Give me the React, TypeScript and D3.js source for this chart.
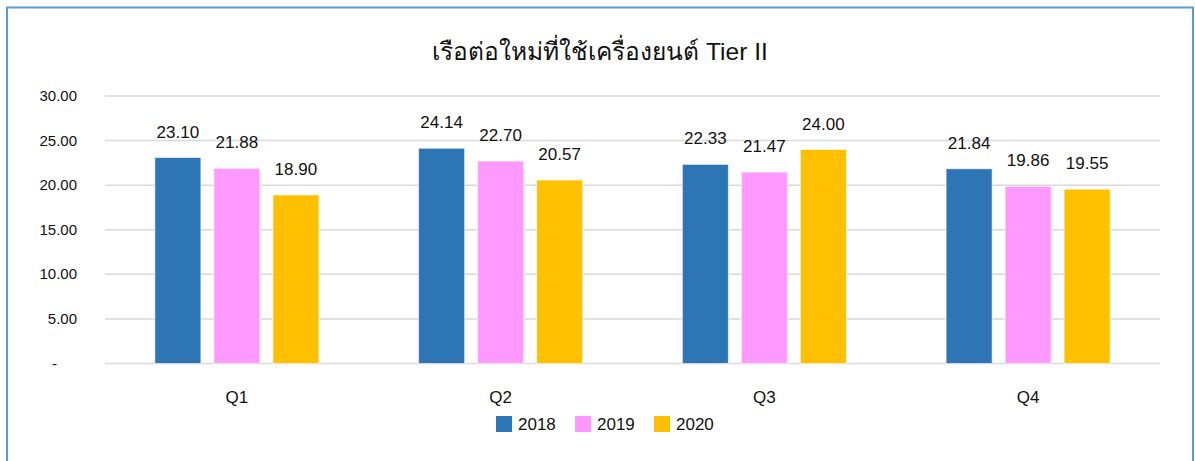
import React, { useEffect, useRef } from "react";
import * as d3 from "d3";

const quarters = ["Q1", "Q2", "Q3", "Q4"];
const years = ["2018", "2019", "2020"];
const values2018 = [23.1, 24.14, 22.33, 21.84];
const values2019 = [21.88, 22.7, 21.47, 19.86];
const values2020 = [18.9, 20.57, 24.0, 19.55];
const yTicks = [0, 5, 10, 15, 20, 25, 30];
const colors = ["#2E75B6", "#FF99FF", "#FFC000"];
const title = "เรือต่อใหม่ที่ใช้เครื่องยนต์ Tier II";

const width = 1195;
const height = 461;
const margin = { top: 96, right: 35, bottom: 97.5, left: 105 };
const font = "Liberation Sans, Arial, Noto Sans, sans-serif";

export default function App() {
  const svgRef = useRef<SVGSVGElement>(null);

  useEffect(() => {
    const svg = d3.select(svgRef.current);
    svg.selectAll("*").remove();

    const series = [values2018, values2019, values2020];
    const rows = quarters.map((q, i) => ({
      q,
      vals: years.map((y, j) => ({ year: y, idx: j, value: series[j][i] })),
    }));

    const x0 = d3
      .scaleBand()
      .domain(quarters)
      .range([margin.left, width - margin.right])
      .paddingInner(0.378)
      .paddingOuter(0.189);

    const x1 = d3
      .scaleBand()
      .domain(years)
      .range([0, x0.bandwidth()])
      .paddingInner(0.22);

    const y = d3
      .scaleLinear()
      .domain([0, 30])
      .range([height - margin.bottom, margin.top]);

    // frame
    svg
      .append("rect")
      .attr("x", 7)
      .attr("y", 7.5)
      .attr("width", 1186)
      .attr("height", 500)
      .attr("fill", "white")
      .attr("stroke", "#5B9BD5")
      .attr("stroke-width", 2);

    svg
      .append("text")
      .attr("x", 600)
      .attr("y", 60)
      .attr("text-anchor", "middle")
      .attr("font-size", 24.5)
      .attr("font-family", font)
      .attr("fill", "#111")
      .text(title);

    // grid
    svg
      .append("g")
      .selectAll("line")
      .data(yTicks)
      .join("line")
      .attr("x1", margin.left)
      .attr("x2", width - margin.right)
      .attr("y1", (d) => y(d))
      .attr("y2", (d) => y(d))
      .attr("stroke", "#d9d9d9")
      .attr("stroke-width", 1.5);

    // y tick labels
    svg
      .append("g")
      .selectAll("text")
      .data(yTicks)
      .join("text")
      .attr("x", (d) => (d === 0 ? 52 : 77))
      .attr("y", (d) => y(d) + 5)
      .attr("text-anchor", (d) => (d === 0 ? "start" : "end"))
      .attr("font-size", 15)
      .attr("font-family", font)
      .attr("fill", "#111")
      .text((d) => (d === 0 ? "-" : d3.format(".2f")(d)));

    const groups = svg
      .append("g")
      .selectAll("g")
      .data(rows)
      .join("g")
      .attr("transform", (d) => `translate(${x0(d.q)},0)`);

    groups
      .selectAll("rect")
      .data((d) => d.vals)
      .join("rect")
      .attr("x", (d) => x1(d.year)!)
      .attr("width", x1.bandwidth())
      .attr("y", (d) => y(d.value))
      .attr("height", (d) => y(0) - y(d.value))
      .attr("fill", (d) => colors[d.idx])
      .attr("stroke", "rgba(255,255,255,0.6)")
      .attr("stroke-width", 1);

    groups
      .selectAll("text")
      .data((d) => d.vals)
      .join("text")
      .attr("x", (d) => x1(d.year)! + x1.bandwidth() / 2)
      .attr("y", (d) => y(d.value) - 20)
      .attr("text-anchor", "middle")
      .attr("font-size", 17)
      .attr("font-family", font)
      .attr("fill", "#111")
      .text((d) => d3.format(".2f")(d.value));

    // category labels
    svg
      .append("g")
      .selectAll("text")
      .data(quarters)
      .join("text")
      .attr("x", (d) => x0(d)! + x0.bandwidth() / 2)
      .attr("y", 403)
      .attr("text-anchor", "middle")
      .attr("font-size", 17)
      .attr("font-family", font)
      .attr("fill", "#111")
      .text((d) => d);

    // legend
    const legendX = [496, 575, 654];
    const legend = svg
      .append("g")
      .selectAll("g")
      .data(years)
      .join("g")
      .attr("transform", (d, i) => `translate(${legendX[i]},416)`);
    legend
      .append("rect")
      .attr("width", 16)
      .attr("height", 16)
      .attr("fill", (d, i) => colors[i]);
    legend
      .append("text")
      .attr("x", 22)
      .attr("y", 14)
      .attr("font-size", 17)
      .attr("font-family", font)
      .attr("fill", "#111")
      .text((d) => d);
  }, []);

  return (
    <svg
      ref={svgRef}
      width={width}
      height={height}
      style={{ position: "absolute", left: 0, top: 0 }}
    />
  );
}
